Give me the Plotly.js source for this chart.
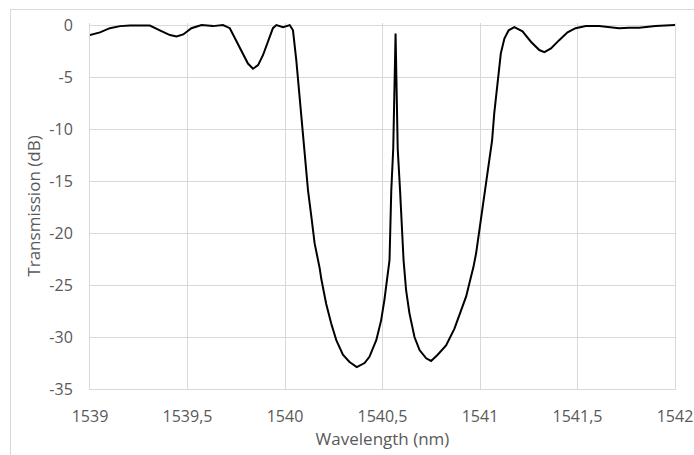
<!DOCTYPE html>
<html>
<head>
<meta charset="utf-8">
<script src="https://cdn.plot.ly/plotly-3.0.1.min.js"></script>
<style>
  html, body { margin: 0; padding: 0; background: #fff; }
  #wrap { position: relative; width: 694px; height: 455px; overflow: hidden; }
  #chart { position: absolute; left: 0; top: 0; width: 694px; height: 455px; }
  #frame { position: absolute; left: 10px; top: 9px; width: 720px; height: 480px; border: 1px solid #d9d9d9; pointer-events: none; }
</style>
</head>
<body>
<div id="wrap"><div id="chart"></div><div id="frame"></div></div>
<script>
// Wavelength (nm)
const wavelength = [
  1539.000, 1539.051, 1539.102, 1539.154, 1539.205, 1539.256, 1539.307, 1539.358,
  1539.410, 1539.444, 1539.478, 1539.520, 1539.572, 1539.631, 1539.682, 1539.717,
  1539.751, 1539.785, 1539.810, 1539.836, 1539.862, 1539.887, 1539.913, 1539.938,
  1539.956, 1539.990, 1540.024, 1540.041, 1540.058, 1540.075, 1540.097, 1540.105,
  1540.118, 1540.135, 1540.152, 1540.178, 1540.186, 1540.211, 1540.237, 1540.263,
  1540.297, 1540.331, 1540.368, 1540.408, 1540.433, 1540.468, 1540.493, 1540.510,
  1540.522, 1540.536, 1540.545, 1540.555, 1540.567, 1540.578, 1540.590, 1540.608,
  1540.621, 1540.638, 1540.664, 1540.690, 1540.724, 1540.749, 1540.783, 1540.826,
  1540.869, 1540.903, 1540.929, 1540.950, 1540.966, 1540.980, 1540.997, 1541.014,
  1541.034, 1541.048, 1541.062, 1541.073, 1541.090, 1541.107, 1541.125, 1541.147,
  1541.176, 1541.218, 1541.261, 1541.304, 1541.330, 1541.364, 1541.406, 1541.449,
  1541.490, 1541.543, 1541.611, 1541.662, 1541.713, 1541.765, 1541.816, 1541.900,
  1541.950, 1542.000
];
// Transmission (dB)
const transmission = [
  -0.96, -0.70, -0.30, -0.10, -0.05, -0.03, -0.05, -0.50,
  -0.96, -1.10, -0.90, -0.30, 0.00, -0.10, 0.00, -0.30,
  -1.60, -2.90, -3.70, -4.20, -3.85, -2.90, -1.60, -0.30,
  0.00, -0.20, 0.00, -0.50, -3.40, -6.90, -11.90, -13.30,
  -15.90, -18.40, -21.00, -23.40, -24.40, -26.80, -28.70, -30.30,
  -31.70, -32.40, -32.90, -32.50, -31.90, -30.30, -28.40, -26.40,
  -24.50, -22.60, -15.90, -11.90, -0.80, -11.90, -15.90, -22.60,
  -25.50, -27.70, -30.00, -31.25, -32.05, -32.30, -31.70, -30.80,
  -29.20, -27.40, -26.10, -24.50, -23.30, -21.95, -19.70, -17.50,
  -15.20, -13.00, -11.10, -8.50, -5.30, -2.70, -1.30, -0.50,
  -0.20, -0.60, -1.60, -2.40, -2.60, -2.25, -1.45, -0.70,
  -0.30, -0.10, -0.10, -0.20, -0.30, -0.25, -0.25, -0.10,
  -0.05, 0.00
];
const xTickVals = [1539, 1539.5, 1540, 1540.5, 1541, 1541.5, 1542];
const xTickText = ["1539", "1539,5", "1540", "1540,5", "1541", "1541,5", "1542"];
const yTickVals = [0, -5, -10, -15, -20, -25, -30, -35];
const yTickText = ["0", "-5", "-10", "-15", "-20", "-25", "-30", "-35"];
const xTitle = "Wavelength (nm)";
const yTitle = "Transmission (dB)";

const textColor = "#595959";
const gridColor = "#d9d9d9";
const fontFamily = "'Open Sans', 'Liberation Sans', sans-serif";

const trace = {
  x: wavelength,
  y: transmission,
  type: "scatter",
  mode: "lines",
  line: { color: "#000000", width: 2 },
  hoverinfo: "skip"
};

const layout = {
  width: 694,
  height: 455,
  margin: { l: 90, r: 19, t: 23, b: 66, pad: 0 },
  paper_bgcolor: "rgba(0,0,0,0)",
  plot_bgcolor: "#ffffff",
  showlegend: false,
  font: { family: fontFamily, size: 16, color: textColor },
  xaxis: {
    range: [1539, 1542],
    tickmode: "array",
    tickvals: xTickVals,
    ticktext: xTickText,
    showgrid: true,
    gridcolor: gridColor,
    gridwidth: 1,
    zeroline: false,
    showline: true,
    linecolor: gridColor,
    linewidth: 1,
    ticks: "",
    ticklabelstandoff: 13,
    tickfont: { family: fontFamily, size: 16, color: textColor },
    title: { text: xTitle, font: { family: fontFamily, size: 17, color: textColor }, standoff: 6 },
    fixedrange: true
  },
  yaxis: {
    range: [-35, 0.2],
    tickmode: "array",
    tickvals: yTickVals,
    ticktext: yTickText,
    showgrid: true,
    gridcolor: gridColor,
    gridwidth: 1,
    zeroline: false,
    showline: true,
    mirror: true,
    linecolor: gridColor,
    linewidth: 1,
    ticks: "",
    ticklabelstandoff: 13,
    tickfont: { family: fontFamily, size: 16, color: textColor },
    title: { text: yTitle, font: { family: fontFamily, size: 17, color: textColor }, standoff: 4 },
    fixedrange: true
  }
};

Plotly.newPlot("chart", [trace], layout, { displayModeBar: false, staticPlot: true });
</script>
</body>
</html>
